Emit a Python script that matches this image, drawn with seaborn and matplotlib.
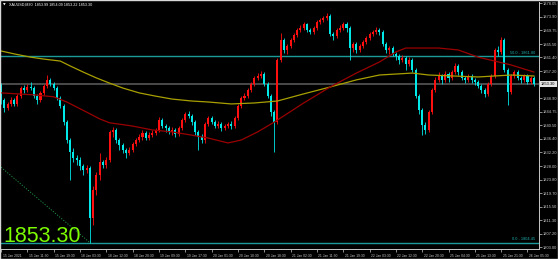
import numpy as np
import pandas as pd
import matplotlib
matplotlib.use("Agg")
import matplotlib.pyplot as plt
import seaborn as sns
from matplotlib.transforms import blended_transform_factory, ScaledTranslation
from matplotlib.patches import Rectangle

# ---------------- data (XAUUSD, M30) ----------------
header = "XAUUSD,M30  1853.99 1854.09 1853.22 1853.30"
first_open = 1853.0
closes = [
    1848.3, 1845.9, 1847.1, 1848.3, 1847.1, 1849.6, 1852.0, 1851.4, 1852.3, 1852.0,
    1849.6, 1848.3, 1850.5, 1852.6, 1854.5, 1853.2, 1852.0, 1849.0, 1846.5, 1841.5,
    1836.0, 1832.3, 1830.5, 1829.9, 1828.0, 1826.8, 1827.4, 1812.0, 1820.6, 1825.2,
    1829.2, 1828.3, 1829.9, 1838.5, 1839.1, 1836.0, 1834.5, 1832.9, 1832.0, 1832.9,
    1834.8, 1836.0, 1837.0, 1838.2, 1836.6, 1837.6, 1838.2, 1839.1, 1842.2, 1840.3,
    1839.7, 1838.5, 1839.1, 1837.9, 1839.7, 1842.2, 1844.0, 1843.4, 1841.5, 1838.5,
    1837.0, 1836.0, 1840.9, 1842.8, 1841.5, 1840.3, 1840.9, 1839.7, 1840.3, 1840.9,
    1840.3, 1842.8, 1846.5, 1849.0, 1849.6, 1851.4, 1853.2, 1855.1, 1855.7, 1856.3,
    1853.2, 1849.6, 1844.6, 1841.5, 1860.6, 1866.8, 1863.7, 1864.9, 1866.8, 1868.3,
    1869.8, 1870.5, 1871.7, 1869.8, 1869.2, 1870.5, 1872.3, 1872.9, 1873.5, 1874.2,
    1868.6, 1868.0, 1869.8, 1870.5, 1871.7, 1870.5, 1864.3, 1865.5, 1863.7, 1864.9,
    1866.2, 1867.4, 1868.6, 1869.2, 1869.8, 1869.2, 1865.5, 1863.7, 1864.3, 1862.5,
    1861.8, 1860.6, 1861.2, 1859.4, 1860.6, 1857.5, 1849.6, 1845.2, 1840.6, 1839.1,
    1844.6, 1851.4, 1854.5, 1855.7, 1854.5, 1856.3, 1855.1, 1856.9, 1858.8, 1856.9,
    1855.1, 1854.5, 1855.7, 1854.5, 1853.9, 1852.6, 1851.4, 1850.2, 1853.2, 1855.7,
    1863.7, 1863.1, 1866.8, 1857.5, 1850.8, 1855.7, 1856.9, 1855.1, 1854.5, 1855.7,
    1853.9, 1855.1, 1853.3]
highs = [
    1853.5, 1849.0, 1847.7, 1849.3, 1849.0, 1850.2, 1852.6, 1853.0, 1853.2, 1853.9,
    1852.6, 1850.2, 1851.1, 1853.2, 1856.0, 1855.1, 1853.9, 1852.6, 1849.6, 1847.1,
    1842.2, 1836.6, 1833.6, 1831.4, 1830.8, 1828.6, 1828.3, 1828.0, 1821.9, 1826.2,
    1832.0, 1829.9, 1830.8, 1839.1, 1840.0, 1839.7, 1836.6, 1835.1, 1833.6, 1833.9,
    1835.4, 1836.6, 1837.9, 1839.1, 1838.8, 1838.5, 1839.1, 1839.7, 1843.1, 1842.8,
    1840.9, 1840.3, 1840.0, 1839.7, 1840.3, 1842.8, 1844.6, 1844.9, 1844.0, 1842.2,
    1839.1, 1837.9, 1841.5, 1843.4, 1843.4, 1842.2, 1841.9, 1841.5, 1840.9, 1841.5,
    1841.9, 1843.4, 1847.1, 1849.6, 1850.5, 1852.0, 1853.9, 1855.7, 1856.6, 1857.2,
    1856.9, 1853.9, 1850.2, 1845.2, 1861.2, 1868.9, 1867.4, 1865.5, 1867.4, 1868.9,
    1870.5, 1871.4, 1872.3, 1872.0, 1870.5, 1871.1, 1872.9, 1873.5, 1874.2, 1875.1,
    1874.8, 1869.2, 1870.5, 1871.4, 1872.3, 1872.3, 1871.1, 1866.2, 1866.2, 1865.5,
    1866.8, 1868.0, 1869.2, 1869.8, 1870.8, 1870.5, 1869.8, 1866.2, 1864.9, 1864.9,
    1863.1, 1862.5, 1862.2, 1861.8, 1861.5, 1861.2, 1858.2, 1850.2, 1845.9, 1841.5,
    1845.2, 1852.0, 1855.4, 1856.9, 1856.3, 1857.2, 1856.9, 1857.5, 1859.7, 1859.4,
    1857.5, 1855.7, 1856.3, 1856.3, 1855.1, 1854.5, 1853.2, 1852.0, 1853.9, 1856.3,
    1864.3, 1864.9, 1867.7, 1867.4, 1858.2, 1856.3, 1857.5, 1857.5, 1855.7, 1856.3,
    1856.3, 1855.7, 1855.7]
lows = [
    1847.1, 1844.6, 1845.2, 1846.5, 1846.5, 1846.5, 1849.0, 1850.5, 1850.8, 1851.4,
    1849.0, 1847.1, 1847.7, 1849.9, 1852.0, 1852.6, 1851.4, 1848.3, 1845.9, 1840.6,
    1835.1, 1823.7, 1829.2, 1828.3, 1826.8, 1825.2, 1825.9, 1804.45, 1809.9, 1819.1,
    1823.7, 1827.4, 1827.4, 1829.2, 1837.0, 1835.1, 1832.9, 1832.0, 1830.5, 1831.4,
    1832.3, 1834.2, 1835.4, 1836.0, 1836.0, 1836.0, 1837.0, 1837.6, 1838.5, 1839.7,
    1838.5, 1837.9, 1837.6, 1837.0, 1837.3, 1839.1, 1841.5, 1842.8, 1840.6, 1837.6,
    1832.9, 1835.1, 1835.1, 1840.3, 1840.9, 1839.7, 1839.7, 1838.8, 1839.1, 1839.7,
    1839.4, 1839.7, 1842.2, 1845.9, 1848.3, 1849.0, 1850.8, 1852.6, 1854.5, 1855.1,
    1852.6, 1849.0, 1843.4, 1832.3, 1840.9, 1860.0, 1862.8, 1862.5, 1864.3, 1866.2,
    1867.7, 1869.2, 1869.8, 1869.2, 1868.6, 1868.6, 1869.8, 1871.7, 1872.3, 1872.9,
    1868.0, 1866.8, 1867.4, 1869.2, 1869.8, 1869.2, 1860.6, 1863.1, 1862.8, 1863.1,
    1864.3, 1865.5, 1866.8, 1868.0, 1868.6, 1868.3, 1864.9, 1862.8, 1862.5, 1861.8,
    1860.6, 1859.4, 1860.0, 1857.5, 1858.8, 1856.9, 1849.0, 1844.0, 1837.6, 1837.9,
    1838.5, 1844.0, 1850.8, 1853.9, 1853.2, 1853.9, 1853.9, 1854.5, 1856.3, 1856.0,
    1854.5, 1853.5, 1853.9, 1853.5, 1853.0, 1852.0, 1850.5, 1849.3, 1849.6, 1852.6,
    1855.1, 1861.8, 1862.5, 1856.9, 1846.8, 1850.2, 1855.1, 1854.5, 1853.5, 1853.9,
    1853.2, 1853.2, 1852.6]

red_ma_idx = [0, 5, 10, 16, 20, 26, 30, 33, 40, 46, 52, 58, 63, 69, 73, 78, 83, 92, 100,
              108, 115, 120, 123, 133, 139, 145, 150, 155, 162]
red_ma = [1850.5, 1850.2, 1849.9, 1849.3, 1847.7, 1844.6, 1842.5, 1841.3, 1840.3, 1839.1,
          1838.5, 1837.5, 1836.6, 1835.1, 1836.0, 1838.5, 1841.5, 1847.4, 1852.3, 1856.6,
          1860.0, 1863.1, 1864.3, 1864.3, 1863.7, 1861.5, 1860.3, 1859.1, 1856.9]
yel_ma_idx = [0, 4, 9, 13, 18, 21, 25, 29, 33, 37, 42, 47, 52, 58, 63, 70, 77, 84, 92, 100,
              108, 115, 120, 125, 130, 145, 155, 162]
yel_ma = [1863.4, 1862.5, 1861.5, 1860.9, 1860.3, 1858.8, 1856.9, 1855.1, 1853.5, 1852.0,
          1850.5, 1849.5, 1848.6, 1848.0, 1847.7, 1847.1, 1847.4, 1848.0, 1850.2, 1852.3,
          1854.5, 1856.0, 1856.3, 1856.6, 1856.0, 1855.4, 1856.0, 1855.7]

fib_names = ["50.0", "0.0"]
fib_levels = [1861.80, 1804.45]
trend_x = [-1, 27]
trend_y = [1828.5, 1804.45]
last_price = 1853.30

ytick_vals = [1878.05, 1873.90, 1869.75, 1865.50, 1861.40, 1857.20, 1848.90, 1844.75, 1840.50,
              1836.40, 1832.20, 1828.00, 1823.80, 1819.70, 1815.50, 1811.30, 1807.20, 1803.00]
time_labels = ["15 Jan 2021", "15 Jan 11:30", "15 Jan 19:30", "18 Jan 03:30", "18 Jan 12:30",
               "18 Jan 20:30", "19 Jan 09:30", "19 Jan 17:30", "20 Jan 01:30", "20 Jan 10:30",
               "20 Jan 18:30", "21 Jan 02:30", "21 Jan 11:30", "21 Jan 19:30", "22 Jan 03:30",
               "22 Jan 12:30", "22 Jan 20:30", "25 Jan 04:30", "25 Jan 13:30", "25 Jan 21:30",
               "26 Jan 05:30"]
time_tick_idx = [0, 8, 16, 24, 32, 40, 48, 56, 64, 72, 80, 88, 96, 104, 112, 120, 128, 136, 144, 152, 160]

# ---------------- style ----------------
sns.set_theme(style="dark", rc={"axes.facecolor": "black", "figure.facecolor": "black"})
plt.rcParams["font.family"] = ["Liberation Sans", "DejaVu Sans"]

UP = "#ff1010"
DN = "#00e8e8"
AXC = "#c8c8c8"

fig = plt.figure(figsize=(5.58, 2.59), dpi=100, facecolor="black")
ax = fig.add_axes([0.0, 1 - 249 / 259, 539 / 558, 247 / 259])
ax.set_facecolor("black")

df = pd.DataFrame({"c": closes, "h": highs, "l": lows})
df["o"] = [first_open] + closes[:-1]
df["i"] = np.arange(len(df))
up = df["c"] >= df["o"]
cols = np.where(up, UP, DN)

# horizontal objects (behind candles)
for lvl in fib_levels:
    ax.axhline(lvl, color="#1c9a9a", lw=1.0, zorder=1)
ax.axhline(last_price, color="#505050", lw=1.3, zorder=1)
ax.plot(trend_x, trend_y, color="#1f8f45", lw=0.7, ls=(0, (1.2, 1.6)), zorder=1)

# candles
ax.vlines(df["i"], df["l"], df["h"], colors=cols, lw=0.6, zorder=2)
body_lo = np.minimum(df["o"], df["c"])
body_h = np.maximum(np.abs(df["c"] - df["o"]), 0.25)
ax.bar(df["i"], body_h, bottom=body_lo, width=0.62, color=cols, linewidth=0, zorder=2)

# moving averages
sns.lineplot(x=yel_ma_idx, y=yel_ma, ax=ax, color="#a8a000", lw=0.9, zorder=3)
sns.lineplot(x=red_ma_idx, y=red_ma, ax=ax, color="#9a0000", lw=0.9, zorder=3)

ax.set_xlim(-0.304, 163.5)
ax.set_ylim(1802.48, 1878.46)

# fib labels
for nm, lvl in zip(fib_names, fib_levels):
    ax.text(162.4, lvl + 0.35, f"{nm} - {lvl:.2f}", color="#1fb0b0", fontsize=2.8,
            ha="right", va="bottom", zorder=4)

# axes styling
for s in ["top", "left"]:
    ax.spines[s].set_visible(False)
for s in ["right", "bottom"]:
    ax.spines[s].set_color(AXC)
    ax.spines[s].set_linewidth(0.7)
ax.grid(False)
ax.yaxis.tick_right()
ax.set_yticks(ytick_vals)
ax.set_yticklabels([f"{v:.2f}" for v in ytick_vals])
ax.tick_params(axis="y", which="both", right=True, left=False, direction="out", length=2,
               width=0.5, colors=AXC, labelsize=2.9, pad=1)
ax.set_xticks(time_tick_idx)
ax.set_xticklabels(time_labels)
ax.tick_params(axis="x", which="both", bottom=True, direction="out", length=2.5,
               width=0.5, colors=AXC, labelsize=2.4, pad=1)
off = ScaledTranslation(1.5 / 100, 0, fig.dpi_scale_trans)
for lab in ax.get_xticklabels():
    lab.set_ha("left")
    lab.set_transform(lab.get_transform() + off)
ax.set_xlabel("")
ax.set_ylabel("")

# current price box on the price scale
tr = blended_transform_factory(ax.transAxes, ax.transData)
ax.text(1.004, last_price, f"{last_price:.2f}", transform=tr, fontsize=2.9, color="black",
        ha="left", va="center", clip_on=False, zorder=5,
        bbox=dict(boxstyle="square,pad=0.3", fc="#e4e4e4", ec="none"))

# header and big price
fig.text(3 / 558, 1 - 5 / 259, "\u25bc", fontsize=2.5, color="white", va="center",
         family=["DejaVu Sans"])
fig.text(9 / 558, 1 - 5 / 259, header, fontsize=2.7, color="white", va="center")
fig.text(3 / 558, 1 - 242 / 259, f"{last_price:.2f}", fontsize=15.5, color="#7cfc00",
         va="baseline", ha="left")

fig.patches.append(Rectangle((0, 0), 1, 1, transform=fig.transFigure, fill=False,
                             ec="#d8d8d8", lw=1.0, zorder=10))

fig.savefig("out.png", dpi=100, facecolor="black")
